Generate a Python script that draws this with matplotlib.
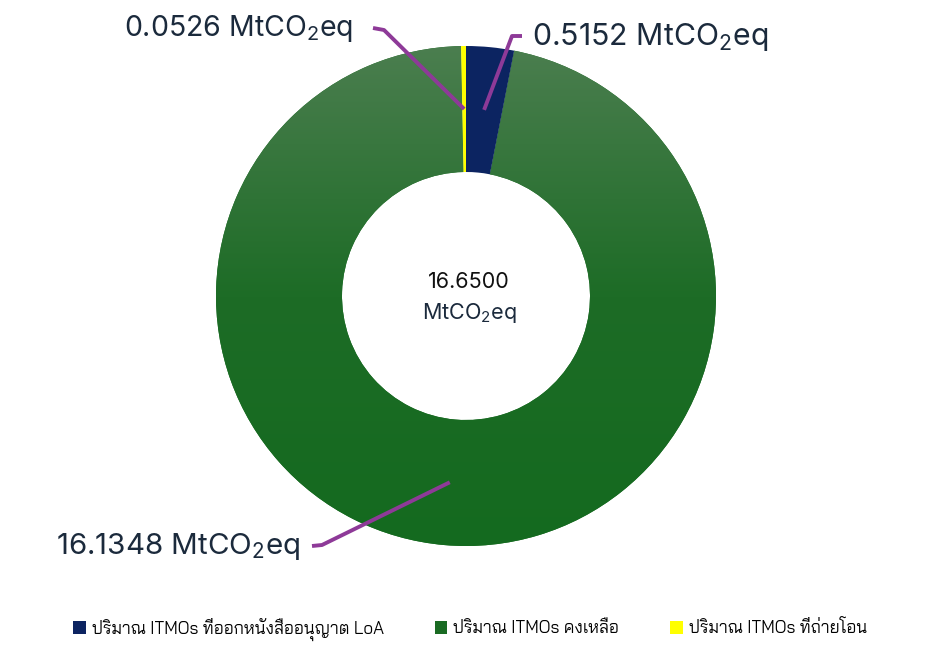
import numpy as np
import matplotlib
matplotlib.use("Agg")
import matplotlib.pyplot as plt
from matplotlib.patches import Patch
from matplotlib.colors import to_rgb

# ข้อมูล (MtCO2eq)
labels = ["ปริมาณ ITMOs ที่ออกหนังสืออนุญาต LoA",
          "ปริมาณ ITMOs คงเหลือ",
          "ปริมาณ ITMOs ที่ถ่ายโอน"]
values = [0.5152, 16.1348, 0.0526]
value_text = ["0.5152 MtCO$_2$eq", "16.1348 MtCO$_2$eq", "0.0526 MtCO$_2$eq"]
total_text = "16.6500"
colors = ["#0c2461", "#1a6b23", "#ffff00"]
green_stops = ["#4b7e4f", "#1d6c26", "#146a1f"]

plt.rcParams["mathtext.fontset"] = "custom"
plt.rcParams["mathtext.rm"] = "Inter"
plt.rcParams["mathtext.it"] = "Inter"

W, H = 941, 650
fig = plt.figure(figsize=(W / 100, H / 100), dpi=100)
ax = fig.add_axes([0, 0, 1, 1])

cx, cy, R, ring = 466, 354, 250, 126
wedges, _ = ax.pie(values, colors=colors, startangle=90, counterclock=False,
                   radius=R, center=(cx, cy),
                   wedgeprops=dict(width=ring, linewidth=0))
ax.set_xlim(0, W)
ax.set_ylim(0, H)
ax.set_aspect("equal")
ax.axis("off")

# ไล่สีของส่วนสีเขียว (บนอ่อน ล่างเข้ม)
t = np.linspace(0, 1, 256)
stops = np.array([to_rgb(c) for c in green_stops])
grad = np.stack([np.interp(t, [0, 0.5, 1], stops[:, k]) for k in range(3)], axis=-1)
grad = grad[:, None, :]
im = ax.imshow(grad, extent=(cx - R, cx + R, cy - R, cy + R), origin="upper",
               aspect="auto", zorder=2, interpolation="bilinear")
im.set_clip_path(wedges[1])
wedges[0].set_zorder(3)
wedges[2].set_zorder(3)

# เส้นชี้และป้ายค่า
line_c = "#8e3a98"
txt_c = "#1b2a3c"
r_mid = R - ring / 2
# (จุดหักมุม, ปลายเส้น, ตำแหน่งข้อความ, แนวข้อความ, ขนาด)
callouts = [
    ((512, 614), (522, 614), (532, 613), "left", 21.8),
    ((322, 105), (312, 104), (300, 103), "right", 21.3),
    ((384, 620), (373, 622), (353, 621), "right", 20.5),
]
for w, txt, (elb, end, tp, ha, fs) in zip(wedges, value_text, callouts):
    mid = np.deg2rad((w.theta1 + w.theta2) / 2)
    px, py = cx + r_mid * np.cos(mid), cy + r_mid * np.sin(mid)
    ax.plot([px, elb[0], end[0]], [py, elb[1], end[1]], color=line_c,
            lw=2.8, solid_capstyle="butt", zorder=5)
    ax.text(tp[0], tp[1], txt, ha=ha, va="center", fontsize=fs, color=txt_c,
            family=["Inter", "DejaVu Sans"], zorder=6)

# ข้อความตรงกลาง
ax.text(cx + 3, 368, total_text, ha="center", va="center", fontsize=15.5,
        color="#111111", family=["Inter", "DejaVu Sans"])
ax.text(cx + 3, 337, "MtCO$_2$eq", ha="center", va="center", fontsize=15.5,
        color=txt_c, family=["Inter", "DejaVu Sans"])

# คำอธิบายสัญลักษณ์
handles = [Patch(facecolor=c, edgecolor="none") for c in colors]
fig.legend(handles, labels, loc="center", bbox_to_anchor=(470 / W, 1 - 629 / H),
           ncol=3, frameon=False, handlelength=0.75, handleheight=0.75,
           handletextpad=0.35, columnspacing=3.0,
           prop=dict(family=["Bai Jamjuree", "DejaVu Sans"], size=12.2))

fig.savefig("out.png", dpi=100)
